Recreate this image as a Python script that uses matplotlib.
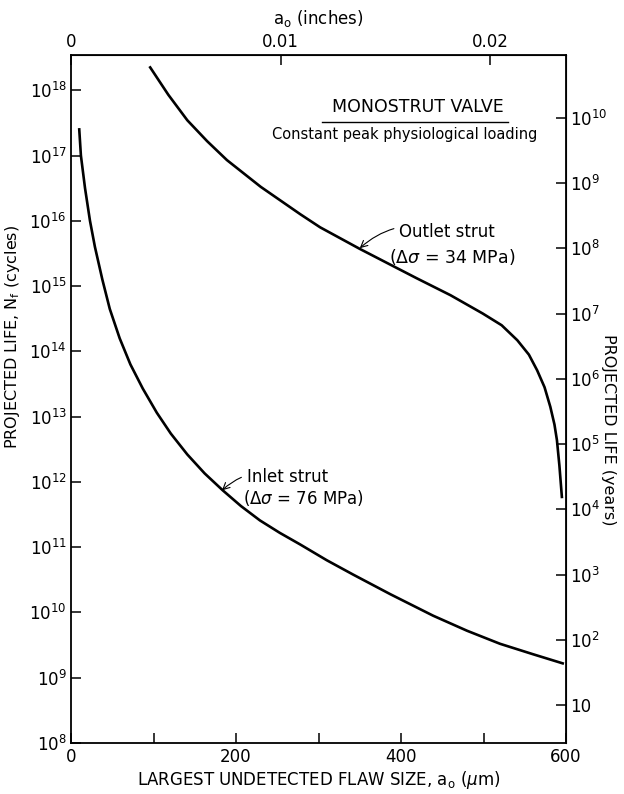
import numpy as np
import matplotlib
matplotlib.use("Agg")
import matplotlib.pyplot as plt
from matplotlib.ticker import FixedLocator, NullLocator, FuncFormatter

# flaw size (um) vs projected life (log10 cycles)
inlet_a = [10, 12, 17, 23, 29, 38, 47, 59, 72, 87, 104, 121, 141, 162, 184, 206,
           229, 253, 278, 310, 342, 387, 439, 480, 520, 560, 596]
inlet_logN = [17.40, 17.0, 16.5, 16.0, 15.6, 15.1, 14.65, 14.2, 13.80, 13.43, 13.06,
              12.74, 12.42, 12.13, 11.87, 11.63, 11.41, 11.22, 11.04, 10.80, 10.58,
              10.28, 9.95, 9.72, 9.52, 9.36, 9.22]

outlet_a = [96, 118, 141, 165, 189, 230, 278, 302, 350, 419, 460, 499, 522, 541,
            555, 565, 574, 581, 586, 589, 592, 595]
outlet_logN = [18.35, 17.93, 17.54, 17.22, 16.93, 16.52, 16.10, 15.90, 15.57, 15.12,
               14.86, 14.58, 14.40, 14.17, 13.95, 13.71, 13.45, 13.15, 12.88, 12.64,
               12.25, 11.77]

cycles_per_year = 3.8e7   # ~72 beats per minute
um_per_inch = 25400.0

left_ticks = [10.0**k for k in range(8, 19)]
right_ticks = [10.0**k for k in range(1, 11)]
bottom_ticks = [0, 100, 200, 300, 400, 500, 600]
bottom_labels = ["0", "", "200", "", "400", "", "600"]
top_ticks = [0, 0.01, 0.02]
top_labels = ["0", "0.01", "0.02"]

plt.rcParams["font.family"] = "DejaVu Sans"

fig = plt.figure(figsize=(6.24, 7.94), dpi=100)
ax = fig.add_axes([71/624, 1 - 743/794, (566-71)/624, (743-55)/794])

ax.plot(inlet_a, 10.0**np.array(inlet_logN), color="black", lw=1.9)
ax.plot(outlet_a, 10.0**np.array(outlet_logN), color="black", lw=1.9)

ax.set_yscale("log")
ax.set_xlim(0, 600)
ax.set_ylim(1e8, 10**18.54)

ax.yaxis.set_major_locator(FixedLocator(left_ticks))
ax.yaxis.set_minor_locator(NullLocator())
ax.yaxis.set_major_formatter(FuncFormatter(lambda v, p: r"$10^{%d}$" % round(np.log10(v))))
ax.set_xticks(bottom_ticks)
ax.set_xticklabels(bottom_labels)

for s in ax.spines.values():
    s.set_linewidth(1.3)
ax.tick_params(direction="in", length=7, width=1.1, labelsize=12)
ax.tick_params(axis="y", labelsize=12, pad=3)

ax.set_xlabel(r"LARGEST UNDETECTED FLAW SIZE, a$_\mathrm{o}$ ($\mu$m)", fontsize=12, labelpad=2)
ax.set_ylabel(r"PROJECTED LIFE, N$_\mathrm{f}$ (cycles)", fontsize=11.5)
ax.yaxis.set_label_coords(-0.098, 0.59)

# top axis in inches
top = ax.secondary_xaxis("top", functions=(lambda x: x / um_per_inch, lambda x: x * um_per_inch))
top.set_xticks(top_ticks)
top.set_xticklabels(top_labels)
top.tick_params(direction="in", length=7, width=1.1, labelsize=12, pad=3)
top.set_xlabel(r"a$_\mathrm{o}$ (inches)", fontsize=12, labelpad=6)

# right axis in years
right = ax.secondary_yaxis("right", functions=(lambda c: c / cycles_per_year, lambda y: y * cycles_per_year))
right.yaxis.set_major_locator(FixedLocator(right_ticks))
right.yaxis.set_minor_locator(NullLocator())
right.yaxis.set_major_formatter(FuncFormatter(
    lambda v, p: "10" if round(np.log10(v)) == 1 else r"$10^{%d}$" % round(np.log10(v))))
right.tick_params(direction="in", length=7, width=1.1, labelsize=12, pad=3)
ax.text(1.085, 0.455, "PROJECTED LIFE (years)", transform=ax.transAxes, rotation=-90,
        ha="center", va="center", fontsize=11.5)

# annotations
ax.text(0.70, 0.925, "MONOSTRUT VALVE", transform=ax.transAxes, ha="center", va="center", fontsize=12.5)
ax.plot([0.508, 0.883], [0.903, 0.903], transform=ax.transAxes, color="black", lw=1.0)
ax.text(0.675, 0.884, "Constant peak physiological loading", transform=ax.transAxes,
        ha="center", va="center", fontsize=10.5)

ax.annotate("Outlet strut", xy=(350, 10**15.58), xytext=(398, 10**15.83),
            fontsize=12, ha="left", va="center",
            arrowprops=dict(arrowstyle="->", color="black", lw=0.8,
                            connectionstyle="arc3,rad=0.3", shrinkA=2, shrinkB=0))
ax.text(385, 10**15.45, r"($\Delta\sigma$ = 34 MPa)", fontsize=12.5, ha="left", va="center")

ax.annotate("Inlet strut", xy=(183, 10**11.87), xytext=(213, 10**12.08),
            fontsize=12, ha="left", va="center",
            arrowprops=dict(arrowstyle="->", color="black", lw=0.8,
                            connectionstyle="arc3,rad=0.3", shrinkA=2, shrinkB=0))
ax.text(208, 10**11.76, r"($\Delta\sigma$ = 76 MPa)", fontsize=12, ha="left", va="center")

fig.savefig("out.png", dpi=100)
